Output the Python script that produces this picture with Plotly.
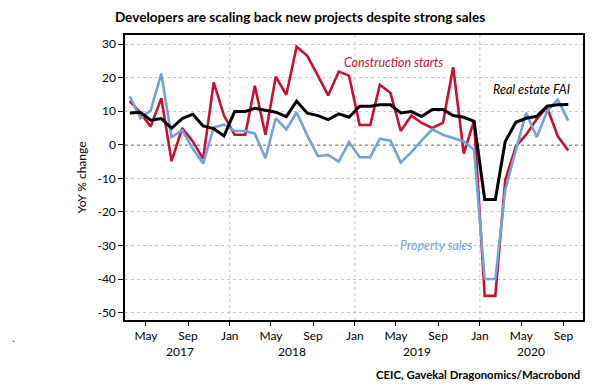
import plotly.graph_objects as go
import pandas as pd

months = pd.period_range("2017-03", "2020-09", freq="M").strftime("%Y-%m").tolist()

construction_starts = [13.0, 9.5, 5.4, 13.9, -4.9, 5.0, 1.0, -4.2, 18.6, 8.7,
                       3.0, 3.0, 17.6, 3.0, 20.3, 14.9, 29.2, 26.5, 20.6, 14.7, 21.8, 20.6,
                       5.9, 5.9, 17.9, 15.4, 4.1, 8.7, 6.5, 5.0, 6.5, 23.1, -2.6, 7.2,
                       -45.0, -45.0, -10.5, -0.5, 3.0, 7.7, 11.2, 2.6, -1.7]
property_sales = [14.4, 7.9, 10.2, 21.2, 2.3, 4.3, -1.2, -5.6, 5.2, 6.0,
                  4.1, 4.1, 3.3, -4.0, 7.9, 4.6, 9.7, 2.8, -3.4, -3.0, -5.0, 0.8,
                  -3.7, -3.7, 1.8, 1.2, -5.3, -2.2, 1.3, 4.6, 3.0, 2.1, 1.0, -1.5,
                  -40.0, -40.0, -13.5, -1.5, 9.5, 2.3, 9.9, 13.5, 7.2]
real_estate_fai = [9.5, 9.7, 7.3, 7.8, 4.9, 7.8, 9.1, 5.6, 4.8, 2.6,
                   9.9, 9.9, 10.9, 10.2, 9.7, 8.4, 13.0, 9.4, 8.7, 7.5, 9.2, 8.2,
                   11.5, 11.5, 11.9, 11.9, 9.5, 9.9, 8.4, 10.5, 10.5, 8.7, 8.2, 7.0,
                   -16.3, -16.3, 1.0, 6.7, 7.9, 8.5, 11.5, 11.9, 12.0]

y_ticks = [30, 20, 10, 0, -10, -20, -30, -40, -50]
x_tick_dates = ["2017-05-01", "2017-09-01", "2018-01-01", "2018-05-01", "2018-09-01",
                "2019-01-01", "2019-05-01", "2019-09-01", "2020-01-01", "2020-05-01", "2020-09-01"]
x_tick_text = ["May", "Sep", "Jan", "May", "Sep", "Jan", "May", "Sep", "Jan", "May", "Sep"]
year_labels = ["2017", "2018", "2019", "2020"]
year_centers = ["2017-08-10", "2018-07-01", "2019-07-01", "2020-05-28"]

x = [pd.Timestamp(m + "-15") for m in months]

FONT = "Lato, Roboto, sans-serif"
RED = "#c8102e"
BLUE = "#72a2d8"

fig = go.Figure()
fig.add_trace(go.Scatter(x=x, y=construction_starts, mode="lines",
                         line=dict(color=RED, width=2.6), name="Construction starts"))
fig.add_trace(go.Scatter(x=x, y=property_sales, mode="lines",
                         line=dict(color=BLUE, width=2.6), name="Property sales"))
fig.add_trace(go.Scatter(x=x, y=real_estate_fai, mode="lines",
                         line=dict(color="black", width=3), name="Real estate FAI"))

fig.add_shape(type="line", xref="paper", yref="y", x0=0, x1=1, y0=0, y1=0,
              line=dict(color="#333333", width=1.5, dash="3px,3px"), layer="below")

# page body has an 8px margin, so the figure is 8px smaller than the window
fig.update_layout(
    width=590, height=381,
    margin=dict(l=117, r=15, t=27, b=69),
    paper_bgcolor="white", plot_bgcolor="white",
    showlegend=False,
    font=dict(family=FONT, size=12, color="black"),
    title=dict(text="<b>Developers are scaling back new projects despite strong sales</b>",
               x=0.495, xanchor="center", y=0.975, yanchor="middle",
               font=dict(family=FONT, size=13.6, color="black")),
)

fig.update_xaxes(
    type="date", range=["2017-03-01", "2020-10-28"],
    tickvals=x_tick_dates, ticktext=x_tick_text,
    ticks="outside", ticklen=4, tickcolor="black",
    showline=True, linecolor="black", linewidth=1.5, mirror=True,
    showgrid=False, tickfont=dict(size=12),
)
for d in ["2018-01-01", "2019-01-01", "2020-01-01"]:
    fig.add_shape(type="line", xref="x", yref="paper", x0=d, x1=d, y0=0, y1=1,
                  line=dict(color="#c4c4c4", width=1, dash="3px,3px"), layer="below")

fig.update_yaxes(
    range=[-52.2, 32.7],
    tickvals=y_ticks, ticktext=[str(v) for v in y_ticks],
    ticks="outside", ticklen=5, tickcolor="black",
    showline=True, linecolor="black", linewidth=1.5, mirror=True,
    showgrid=True, gridcolor="#c8c8c8", griddash="3px,3px", gridwidth=1,
    zeroline=False, tickfont=dict(size=12),
    title=dict(text="YoY % change", font=dict(size=12), standoff=8),
)

for lab, c in zip(year_labels, year_centers):
    fig.add_annotation(x=c, xref="x", y=-0.111, yref="paper", text=lab,
                       showarrow=False, font=dict(size=12), yanchor="middle")

fig.add_annotation(x="2019-04-24", xref="x", y=24.4, yref="y",
                   text="<i>Construction starts</i>", showarrow=False,
                   font=dict(size=12.5, color=RED))
fig.add_annotation(x="2020-05-31", xref="x", y=16.4, yref="y",
                   text="<i>Real estate FAI</i>", showarrow=False,
                   font=dict(size=12.5, color="black"))
fig.add_annotation(x="2019-08-28", xref="x", y=-30.1, yref="y",
                   text="<i>Property sales</i>", showarrow=False,
                   font=dict(size=12.5, color=BLUE))
fig.add_annotation(x=0.997, xref="paper", xanchor="right", y=-0.19, yref="paper",
                   text="<b>CEIC, Gavekal Dragonomics/Macrobond</b>", showarrow=False,
                   font=dict(size=11.4, color="black"), yanchor="middle")
fig.add_annotation(x=-0.252, xref="paper", y=-0.095, yref="paper", text=".",
                   showarrow=False, font=dict(size=12, color=RED))

fig.write_html("out.html")
